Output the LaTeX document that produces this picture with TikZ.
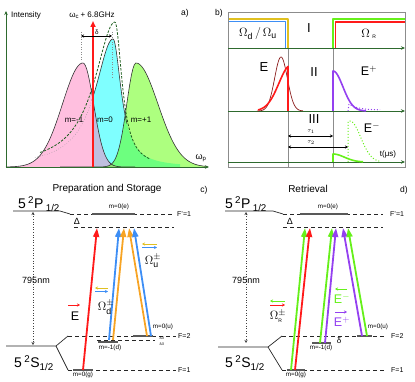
\documentclass[tikz,border=0pt]{standalone}
\usepackage[no-math]{fontspec}
\setmainfont{Liberation Sans}
\usepackage{amsmath}
\usepackage{xcolor}
\usepackage{tikz}
\usetikzlibrary{arrows.meta,positioning,calc}
\definecolor{axisgreen}{HTML}{2E6A2E}
\definecolor{framegrey}{HTML}{8C8C8C}
\definecolor{pinkfill}{HTML}{FF80C0}
\definecolor{cyanfill}{HTML}{00FFFF}
\definecolor{limefill}{HTML}{5CFF00}
\definecolor{cavitygreen}{HTML}{1F5F1F}
\definecolor{beamred}{HTML}{FF1A1A}
\definecolor{pulsedark}{HTML}{8B1C1C}
\definecolor{beamblue}{HTML}{3D8EF5}
\definecolor{beamorange}{HTML}{F7A424}
\definecolor{beamgold}{HTML}{E0C020}
\definecolor{beamgreen}{HTML}{66F01A}
\definecolor{beampurple}{HTML}{9440F0}
\tikzset{
  declare function={
    gpk(\x,\c,\h,\l,\r)=\h*exp(-((\x-\c)/ifthenelse(\x<\c,\l,\r))^2);
    lpk(\x,\c,\h,\l,\r)=\h/(1+((\x-\c)/ifthenelse(\x<\c,\l,\r))^2);
  },
  axisline/.style={draw=axisgreen, line width=0.9pt, -{Stealth[length=4pt,width=3.5pt]}},
  spectrum/.style={draw=black!80, line width=0.6pt},
  frameline/.style={draw=framegrey, line width=0.6pt},
  guideline/.style={draw=framegrey, line width=0.5pt},
  pulse/.style={line width=1.6pt, line join=round},
  thinpulse/.style={line width=0.7pt},
  dotpulse/.style={line width=1pt, dotted},
  spanarrow/.style={draw=black, line width=0.6pt, {Stealth[length=3pt,width=3pt]}-{Stealth[length=3pt,width=3pt]}},
  hfsline/.style={draw=black!85, line width=0.6pt, dash pattern=on 4pt off 3pt},
  subline/.style={draw=black!65, line width=1.2pt},
  termline/.style={draw=black!85, line width=0.7pt},
  gaparrow/.style={draw=black!75, line width=0.6pt, dotted, {Stealth[length=3pt,width=3pt]}-{Stealth[length=3pt,width=3pt]}},
  beam/.style={line width=1.8pt, -{Triangle[length=9pt,width=6pt]}},
  laser/.style={draw=beamred, line width=2.2pt, -{Triangle[length=6pt,width=5pt]}},
  pol/.style={line width=0.8pt, -{Stealth[length=3pt,width=3pt]}},
  lbl/.style={font=\fontsize{8}{9}\selectfont, inner sep=1pt},
  smalllbl/.style={font=\fontsize{6.3}{7}\selectfont, inner sep=1pt},
  levellbl/.style={font=\fontsize{7}{8}\selectfont, inner sep=1pt},
  tinylbl/.style={font=\fontsize{3.5}{4}\selectfont, inner sep=0.3pt},
  paneltag/.style={font=\fontsize{8.5}{10}\selectfont, inner sep=1pt},
  termlbl/.style={font=\fontsize{14}{16}\selectfont, inner sep=1pt},
  romanlbl/.style={font=\fontsize{13}{15}\selectfont, inner sep=1pt},
  fieldlbl/.style={font=\fontsize{12.5}{14}\selectfont, inner sep=1pt},
  titlelbl/.style={font=\fontsize{10}{12}\selectfont, inner sep=1pt},
}

\begin{document}
\begin{tikzpicture}[x=1pt,y=-1pt]
\useasboundingbox (0,0) rectangle (415,382);

% a) spectra of the three Zeeman components
\begin{scope}
  \clip (92.5,0) rectangle (210,167);
  \fill[cyanfill, fill opacity=0.5] (92,167) -- plot[domain=92:180,samples=90] (\x,{167-lpk(\x,113,128,22,10)}) -- (180,167) -- cycle;
\end{scope}
\fill[pinkfill, fill opacity=0.5] (6,167) -- plot[domain=6:150,samples=100] (\x,{167-gpk(\x,83,104,29,15)}) -- (150,167) -- cycle;
\fill[limefill, fill opacity=0.5] (80,167) -- plot[domain=80:207,samples=100] (\x,{167-gpk(\x,136,104,13,31)}) -- (207,167) -- cycle;
\draw[spectrum] plot[domain=6:135,samples=100] (\x,{167-gpk(\x,83,104,29,15)});
\draw[spectrum] plot[domain=92:127,samples=60] (\x,{167-lpk(\x,113,128,22,10)});
\draw[black!45, line width=0.5pt, dotted] plot[domain=35:92,samples=50] (\x,{167-lpk(\x,113,128,22,10)});
\draw[spectrum] plot[domain=60:207,samples=100] (\x,{167-gpk(\x,136,104,13,31)});
\draw[cavitygreen, line width=0.8pt, dash pattern=on 2.5pt off 1.5pt] plot[domain=40:150,samples=100] (\x,{167-lpk(\x,115,145,25,8.5)});

\coordinate (a-origin) at (6,167);
\coordinate (a-ytip) at (6,11);
\coordinate (a-xtip) at (209,167);
\draw[axisline] (a-origin) -- (a-ytip);
\draw[axisline] (a-origin) -- (a-xtip);
\coordinate (a-laserfoot) at (93,167);
\coordinate (a-lasertip) at (93,21);
\draw[laser] (a-laserfoot) -- (a-lasertip);
\draw[guideline, dotted] (81,32) -- (81,62);
\draw[guideline, dotted] (112,32) -- (112,78);
\coordinate (a-dl) at (81,36);
\coordinate (a-dr) at (112,36);
\draw[spanarrow] (a-dl) -- (a-dr);

\node[lbl, anchor=west] (a-intensity) at (10,15) {Intensity};
\node[lbl] (a-carrier) at (92,15) {ω\textsubscript{c}\,+ 6.8GHz};
\node[smalllbl] (a-delta) at (97,32) {δ};
\node[paneltag] (a-tag) at (185,13) {a)};
\node[lbl, font=\fontsize{9}{10}\selectfont] (a-omegap) at (201,158) {ω\textsubscript{p}};
\node[lbl] (a-mminus) at (74,120) {m=-1};
\node[lbl] (a-mzero) at (105,120) {m=0};
\node[lbl] (a-mplus) at (141,120) {m=+1};

% b) pulse sequence
\draw[pulse, beamgold] (228,19) -| (288,48);
\draw[pulse, beamblue] (228,21.5) -| (285.5,48);
\draw[pulse, beamgreen] (333,48) |- (405,19);
\draw[pulse, beamred] (335.5,48) |- (405,22);
\draw[guideline] (288,48) -- (288,167);
\draw[guideline] (333,48) -- (333,167);
\draw[frameline] (228,12) rectangle (405,167);
\coordinate (b-row1) at (228,48);  \coordinate (b-row1end) at (405,48);
\coordinate (b-row2) at (228,111); \coordinate (b-row2end) at (405,111);
\coordinate (b-row3) at (228,162); \coordinate (b-row3end) at (405,162);
\draw[axisline] (b-row1) -- (b-row1end);
\draw[axisline] (b-row2) -- (b-row2end);
\draw[axisline] (b-row3) -- (b-row3end);

\draw[thinpulse, pulsedark] plot[domain=257:303,samples=60] (\x,{111-gpk(\x,281,54,9,9)});
\draw[pulse, beamred] plot[domain=258:288,samples=50] (\x,{111-gpk(\x,291,46,17,17)}) -- (288,111);
\draw[pulse, beampurple] (333,111) -- plot[domain=333:366,samples=50] (\x,{111-gpk(\x,333,40,14,14)});
\draw[dotpulse, beampurple] (348,111) -- plot[domain=349:380,samples=40] (\x,{110-6*exp(-(\x-349)/9)});
\draw[dotpulse, beamgreen] (348,162) -- plot[domain=348:380,samples=50] (\x,{162-gpk(\x,350,41,15,15)});
\draw[pulse, beamgreen] (333,162) -- plot[domain=333:363,samples=40] (\x,{162-gpk(\x,333,8,16,16)});

\coordinate (b-t1a) at (288,136); \coordinate (b-t1b) at (333,136);
\coordinate (b-t2a) at (288,147); \coordinate (b-t2b) at (348,147);
\draw[spanarrow] (b-t1a) -- (b-t1b);
\draw[spanarrow] (b-t2a) -- (b-t2b);

\node[paneltag] (b-tag) at (219,13) {b)};
\node[fieldlbl] (b-omdu) at (258,34) {$\Omega_{\text{d}}\,/\,\Omega_{\text{u}}$};
\node[romanlbl] (b-one) at (309,28) {I};
\node[fieldlbl] (b-omr) at (369,34) {$\Omega_{\;\text{\tiny R}}$};
\node[romanlbl] (b-E) at (264,67) {E};
\node[romanlbl] (b-two) at (314,72) {II};
\node[fieldlbl] (b-Eplus) at (369,71) {E$^{+}$};
\node[romanlbl] (b-three) at (314,119) {III};
\node[smalllbl, inner sep=0pt] (b-tau1) at (311,131.5) {$\tau_1$};
\node[smalllbl, inner sep=0pt] (b-tau2) at (311,142.5) {$\tau_2$};
\node[fieldlbl] (b-Eminus) at (372,128) {E$^{-}$};
\node[lbl] (b-time) at (388,154) {t(μs)};

% c) preparation and storage
\draw[termline] (13,211) -- (60,211) -- (70,214);
\draw[hfsline] (70,214) -- (172,214);
\draw[subline] (92,214) -- (135,214);
\draw[hfsline] (74,227) -- (174,227);
\draw[termline] (6,346) -- (56,346) -- (68,336);
\draw[termline] (56,346) -- (68,370);
\draw[hfsline] (68,336) -- (176,336);
\draw[hfsline] (97,340.5) -- (155,340.5);
\draw[subline] (133,336) -- (153,336);
\draw[subline] (98,342) -- (118,342);
\draw[hfsline] (68,370) -- (176,370);
\draw[subline] (73,370) -- (93,370);
\coordinate (c-gaptop) at (33,212);
\coordinate (c-gapbot) at (33,345);
\draw[gaparrow] (c-gaptop) -- (c-gapbot);

\coordinate (c-g) at (83,370);    \coordinate (c-Etip) at (97,228);
\coordinate (c-d1) at (109,340);  \coordinate (c-d1tip) at (119,228);
\coordinate (c-d2) at (113,340);  \coordinate (c-d2tip) at (124,228);
\coordinate (c-u2) at (147,336);  \coordinate (c-u2tip) at (129,228);
\coordinate (c-u1) at (151,336);  \coordinate (c-u1tip) at (134,228);
\draw[beam, beamred] (c-g) -- (c-Etip);
\draw[beam, beamblue] (c-d1) -- (c-d1tip);
\draw[beam, beamorange] (c-d2) -- (c-d2tip);
\draw[beam, beamorange] (c-u2) -- (c-u2tip);
\draw[beam, beamblue] (c-u1) -- (c-u1tip);

\coordinate (c-pE1) at (68,305);  \coordinate (c-pE2) at (80,305);
\coordinate (c-pd1) at (108,288); \coordinate (c-pd2) at (95,288);
\coordinate (c-pd3) at (95,291.5);\coordinate (c-pd4) at (108,291.5);
\coordinate (c-pu1) at (157,244); \coordinate (c-pu2) at (142,244);
\coordinate (c-pu3) at (142,247.5); \coordinate (c-pu4) at (157,247.5);
\draw[pol, beamred] (c-pE1) -- (c-pE2);
\draw[pol, beamgold] (c-pd1) -- (c-pd2);
\draw[pol, beamblue] (c-pd3) -- (c-pd4);
\draw[pol, beamgold] (c-pu1) -- (c-pu2);
\draw[pol, beamblue] (c-pu3) -- (c-pu4);

\node[titlelbl] (c-title) at (107,189) {Preparation and Storage};
\node[paneltag] (c-tag) at (204,190) {c)};
\node[termlbl] (c-P) at (39,204) {5\,\textsuperscript{2}P\,\textsubscript{1/2}};
\node[termlbl] (c-S) at (34,363) {5\,\textsuperscript{2}S\textsubscript{1/2}};
\node[lbl, font=\fontsize{9}{10}\selectfont] (c-wl) at (36,280) {795nm};
\node[lbl, font=\fontsize{9}{10}\selectfont] (c-Delta) at (77,221) {Δ};
\node[levellbl, anchor=west] (c-Fp1) at (176,214) {F'=1};
\node[levellbl, anchor=west] (c-F2) at (177,336) {F=2};
\node[levellbl, anchor=west] (c-F1) at (177,370) {F=1};
\node[smalllbl] (c-me) at (119,207) {m=0(e)};
\node[smalllbl] (c-mu) at (163,327) {m=0(u)};
\node[smalllbl] (c-md) at (110,348) {m=-1(d)};
\node[smalllbl] (c-mg) at (83,375) {m=0(g)};
\node[tinylbl] (c-half1) at (162,338) {δ/2};
\node[tinylbl] (c-half2) at (162,344) {δ/2};
\node[fieldlbl] (c-E) at (75,316) {E};
\node[fieldlbl] (c-omd) at (106,307) {$\Omega^{\pm}_{\text{d}}$};
\node[fieldlbl] (c-omu) at (153,261) {$\Omega^{\pm}_{\text{u}}$};

% d) retrieval
\draw[termline] (225,211) -- (273,211) -- (283,214);
\draw[hfsline] (283,214) -- (383,214);
\draw[subline] (300,214) -- (348,214);
\draw[hfsline] (283,227) -- (383,227);
\draw[termline] (218,347) -- (268,347) -- (282,336);
\draw[termline] (268,347) -- (282,370);
\draw[hfsline] (282,336) -- (386,336);
\draw[subline] (357,336) -- (372,336);
\draw[subline] (312,343) -- (331,343);
\draw[hfsline] (282,370) -- (386,370);
\draw[subline] (287,370) -- (305,370);
\coordinate (d-gaptop) at (246,212);
\coordinate (d-gapbot) at (246,343);
\draw[gaparrow] (d-gaptop) -- (d-gapbot);

\coordinate (d-g1) at (291,370);  \coordinate (d-g1tip) at (305,228);
\coordinate (d-g2) at (295,370);  \coordinate (d-g2tip) at (310,228);
\coordinate (d-m1) at (320,343);  \coordinate (d-m1tip) at (332,228);
\coordinate (d-m2) at (325,343);  \coordinate (d-m2tip) at (336,228);
\coordinate (d-p1) at (362,336);  \coordinate (d-p1tip) at (343,228);
\coordinate (d-p2) at (367,336);  \coordinate (d-p2tip) at (348,228);
\draw[beam, beamgreen] (d-g1) -- (d-g1tip);
\draw[beam, beamred] (d-g2) -- (d-g2tip);
\draw[beam, beamgreen] (d-m1) -- (d-m1tip);
\draw[beam, beampurple] (d-m2) -- (d-m2tip);
\draw[beam, beampurple] (d-p1) -- (d-p1tip);
\draw[beam, beamgreen] (d-p2) -- (d-p2tip);

\coordinate (d-pr1) at (285,301); \coordinate (d-pr2) at (270,301);
\coordinate (d-pr3) at (270,305); \coordinate (d-pr4) at (285,305);
\coordinate (d-pm1) at (347,289); \coordinate (d-pm2) at (335,289);
\coordinate (d-pp1) at (335,312); \coordinate (d-pp2) at (347,312);
\draw[pol, beamgreen] (d-pr1) -- (d-pr2);
\draw[pol, beamred] (d-pr3) -- (d-pr4);
\draw[pol, beamgreen] (d-pm1) -- (d-pm2);
\draw[pol, beampurple] (d-pp1) -- (d-pp2);

\node[titlelbl] (d-title) at (308,189) {Retrieval};
\node[paneltag] (d-tag) at (404,190) {d)};
\node[termlbl] (d-P) at (246,204) {5\,\textsuperscript{2}P\,\textsubscript{1/2}};
\node[termlbl] (d-S) at (245,363) {5\,\textsuperscript{2}S\textsubscript{1/2}};
\node[lbl, font=\fontsize{9}{10}\selectfont] (d-wl) at (246,280) {795nm};
\node[lbl, font=\fontsize{9}{10}\selectfont] (d-Delta) at (290,221) {Δ};
\node[levellbl, anchor=west] (d-Fp1) at (389,214) {F'=1};
\node[levellbl, anchor=west] (d-F2) at (390,336) {F=2};
\node[levellbl, anchor=west] (d-F1) at (390,370) {F=1};
\node[smalllbl] (d-me) at (328,207) {m=0(e)};
\node[smalllbl] (d-mu) at (378,327) {m=0(u)};
\node[smalllbl] (d-md) at (321,348) {m=-1(d)};
\node[smalllbl] (d-mg) at (296,375) {m=0(g)};
\node[lbl] (d-delta) at (339,341) {δ};
\node[fieldlbl] (d-omr) at (278,316) {$\Omega^{\pm}_{\text{\tiny R}}$};
\node[fieldlbl, text=beamgreen] (d-Eminus) at (342,299) {E$^{-}$};
\node[fieldlbl, text=beampurple] (d-Eplus) at (342,322) {E$^{+}$};
\end{tikzpicture}
\end{document}
